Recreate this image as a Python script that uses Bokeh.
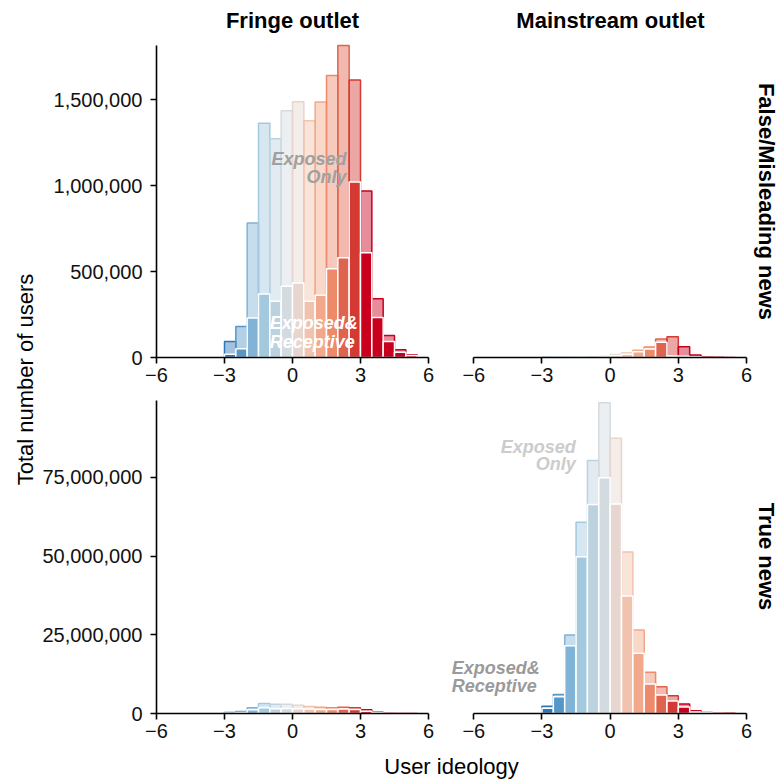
from math import pi
from bokeh.plotting import figure
from bokeh.models import ColumnDataSource, Range1d, FixedTicker, NumeralTickFormatter, Label
from bokeh.layouts import row, column
from bokeh.embed import file_html
from bokeh.resources import INLINE

# ---------------- data ----------------
bin_left = [-3.0, -2.5, -2.0, -1.5, -1.0, -0.5, 0.0, 0.5, 1.0, 1.5, 2.0, 2.5, 3.0, 3.5, 4.0, 4.5, 5.0]
bin_width = 0.5

fringe_false_exposed = [93000, 181000, 782000, 1362000, 1272000, 1436000, 1488000, 1377000, 1486000,
                        1640000, 1815000, 1615000, 969000, 342000, 128000, 45000, 16000]
fringe_false_receptive = [19000, 51000, 230000, 370000, 327000, 414000, 434000, 327000, 362000,
                          516000, 580000, 1021000, 609000, 233000, 93000, 31000, 12000]

mainstream_false_exposed = [0, 0, 0, 2000, 4000, 6000, 17000, 26000, 42000,
                            61000, 108000, 120000, 63000, 14000, 5000, 1000, 0]
mainstream_false_receptive = [0, 0, 0, 1000, 2000, 3000, 11000, 19000, 33000,
                              50000, 89000, 8000, 7000, 4000, 2000, 500, 0]

fringe_true_exposed = [300000, 600000, 1800000, 3200000, 2900000, 2900000, 2600000, 2200000, 2000000,
                       1800000, 2000000, 1800000, 1200000, 400000, 100000, 30000, 0]
fringe_true_receptive = [150000, 300000, 1200000, 1800000, 1500000, 1600000, 1500000, 1400000, 1300000,
                         1300000, 1400000, 1300000, 700000, 200000, 50000, 10000, 0]

mainstream_true_exposed = [2330000, 6000000, 24900000, 60700000, 80300000, 98700000, 87400000, 51300000,
                           26500000, 13100000, 8500000, 5600000, 3000000, 850000, 300000, 100000, 50000]
mainstream_true_receptive = [1700000, 5300000, 21500000, 49800000, 66400000, 74900000, 66500000, 37300000,
                             19100000, 9400000, 5900000, 4000000, 2100000, 500000, 200000, 60000, 30000]

x_ticks = [-6, -3, 0, 3, 6]
x_tick_labels = ["\u22126", "\u22123", "0", "3", "6"]
y_ticks_false = [0, 500000, 1000000, 1500000]
y_ticks_true = [0, 25000000, 50000000, 75000000]

column_labels = ["Fringe outlet", "Mainstream outlet"]
row_labels = ["False/Misleading news", "True news"]
x_title = "User ideology"
y_title = "Total number of users"

bin_palette = ["#2f76b6", "#5697c9", "#80b3d6", "#a3c9df", "#bcd3df", "#d3dbe1", "#e6d6cf",
               "#f1c3ae", "#f2a88a", "#ec8a6a", "#df644f", "#d43933", "#c8001e"]

FONT = "Liberation Sans"


def bin_colors():
    return [bin_palette[min(i, len(bin_palette) - 1)] for i in range(len(bin_left))]


def make_panel(exposed, receptive, y_data_max, y_ticks, show_y, width, height, borders,
               x_start, x_end, y_stretch):
    left_b, right_b, top_b, bottom_b = borders
    p = figure(width=width, height=height,
               x_range=Range1d(x_start, x_end), y_range=Range1d(0, y_data_max * y_stretch),
               output_backend="svg", toolbar_location=None,
               y_axis_location="left" if show_y else None,
               min_border=0,
               min_border_left=left_b, min_border_right=right_b,
               min_border_top=top_b, min_border_bottom=bottom_b,
               background_fill_color="white", border_fill_color="white")
    p.outline_line_color = None
    p.grid.visible = False
    src = ColumnDataSource(dict(
        left=bin_left,
        right=[b + bin_width for b in bin_left],
        exposed=exposed,
        receptive=receptive,
        color=bin_colors(),
    ))
    p.quad(left="left", right="right", bottom=0, top="exposed", source=src,
           fill_color="color", fill_alpha=0.45, line_color="color", line_width=1.5)
    p.quad(left="left", right="right", bottom=0, top="receptive", source=src,
           fill_color="color", fill_alpha=1.0, line_color="white", line_width=1.5)

    for ax in p.axis:
        ax.axis_line_width = 1.6
        ax.axis_line_color = "black"
        ax.major_tick_line_width = 1.6
        ax.major_tick_line_color = "black"
        ax.major_tick_out = 6
        ax.major_tick_in = 0
        ax.minor_tick_out = 0
        ax.minor_tick_in = 0
        ax.major_label_text_font = FONT
        ax.major_label_text_font_size = "20px"
        ax.major_label_text_color = "#111111"
    p.xaxis.ticker = FixedTicker(ticks=x_ticks)
    p.xaxis.major_label_overrides = dict(zip(x_ticks, x_tick_labels))
    p.xaxis.major_label_standoff = 4
    p.xaxis.bounds = (x_ticks[0], x_ticks[-1])
    if show_y:
        p.yaxis.ticker = FixedTicker(ticks=y_ticks)
        p.yaxis.formatter = NumeralTickFormatter(format="0,0")
        p.yaxis.major_label_standoff = 8
        p.yaxis.bounds = (0, y_data_max)
    return p


def add_text(p, x, y, text, color, align="left", units="data", angle=0.0, size="18px", style="bold italic"):
    p.add_layout(Label(x=x, y=y, x_units=units, y_units=units, text=text, angle=angle,
                       text_align=align, text_baseline="middle", text_color=color,
                       text_font=FONT, text_font_size=size, text_font_style=style))


top_max = max(fringe_false_exposed + mainstream_false_exposed)
bot_max = max(fringe_true_exposed + mainstream_true_exposed) * 1.007

# left column: data x -6..6 spans 272 px; frame extends 22 px further right
left_ppu = 272 / 12
right_ppu = 272.7 / 12
tl = make_panel(fringe_false_exposed, fringe_false_receptive, top_max, y_ticks_false, True, 412, 392,
                (118, 0, 0, 35), -6, 6 + 22 / left_ppu, 357 / 312)
tr = make_panel(mainstream_false_exposed, mainstream_false_receptive, top_max, y_ticks_false, False, 331, 392,
                (0, 0, 0, 35), -6 - 23.3 / right_ppu, 6 + 35 / right_ppu, 357 / 312)
bl = make_panel(fringe_true_exposed, fringe_true_receptive, bot_max, y_ticks_true, True, 412, 355,
                (118, 0, 0, 34), -6, 6 + 22 / left_ppu, 321 / 313)
br = make_panel(mainstream_true_exposed, mainstream_true_receptive, bot_max, y_ticks_true, False, 331, 355,
                (0, 0, 0, 34), -6 - 23.3 / right_ppu, 6 + 35 / right_ppu, 321 / 313)

# strip labels (screen units relative to each frame's bottom-left)
add_text(tl, 136, 337, column_labels[0], "black", align="center", units="screen", size="22px", style="bold")
add_text(tr, 160, 337, column_labels[1], "black", align="center", units="screen", size="22px", style="bold")
add_text(tr, 316, 156, row_labels[0], "black", align="center", units="screen", angle=-pi / 2, size="22px", style="bold")
add_text(br, 316, 157, row_labels[1], "black", align="center", units="screen", angle=-pi / 2, size="22px", style="bold")

# in-panel annotations
add_text(tl, 2.38, 1157000, "Exposed", "#a0a0a0", align="right")
add_text(tl, 2.38, 1052000, "Only", "#a0a0a0", align="right")
add_text(tl, -1.0, 198000, "Exposed&", "white", align="left")
add_text(tl, -1.0, 93000, "Receptive", "white", align="left")

add_text(br, -1.51, 84700000, "Exposed", "#cccccc", align="right")
add_text(br, -1.51, 79200000, "Only", "#cccccc", align="right")
add_text(br, -6.97, 14400000, "Exposed&", "#9a9a9a", align="left")
add_text(br, -6.97, 8700000, "Receptive", "#9a9a9a", align="left")


def blank(width, height):
    p = figure(width=width, height=height, output_backend="svg", toolbar_location=None,
               x_axis_location=None, y_axis_location=None,
               min_border=0, min_border_left=0, min_border_right=0, min_border_top=0, min_border_bottom=0,
               x_range=Range1d(0, 1), y_range=Range1d(0, 1))
    p.outline_line_color = None
    p.grid.visible = False
    return p


yl = blank(38, 780)
add_text(yl, 25, 401, y_title, "black", align="center", units="screen", angle=pi / 2, size="22px", style="normal")
xl = blank(743, 33)
add_text(xl, 413, 14, x_title, "black", align="center", units="screen", size="22px", style="normal")

layout = row(yl, column(row(tl, tr), row(bl, br), xl))

open("out.html", "w").write(file_html(layout, INLINE))
